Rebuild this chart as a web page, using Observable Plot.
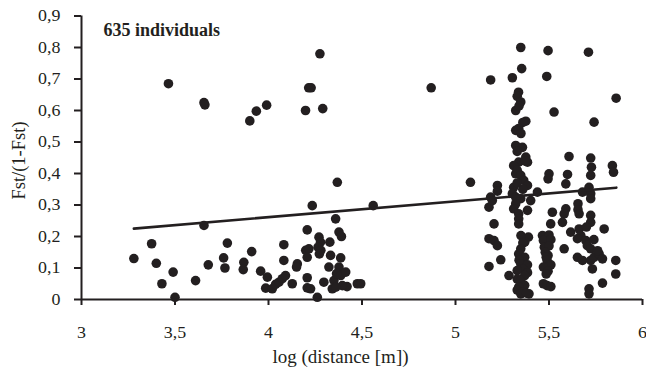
<!DOCTYPE html>
<html><head><meta charset="utf-8">
<script src="https://cdn.jsdelivr.net/npm/d3@7"></script>
<script src="https://cdn.jsdelivr.net/npm/@observablehq/plot@0.6"></script>
<style>body{margin:0;background:#fff;overflow:hidden}</style>
</head><body><div id="chart"></div>
<script>
const distX = [
3.28,3.375,3.40,3.43,3.49,3.50,3.465,3.61,3.655,3.655,3.66,3.678,3.76,3.767,3.78,3.868,3.865,3.90,3.91,3.935,
3.958,3.99,3.994,3.985,4.02,4.038,4.056,4.074,4.091,4.082,4.082,4.127,4.154,4.15,4.198,4.207,4.199,4.216,4.207,4.207,
4.207,4.225,4.215,4.228,4.234,4.261,4.27,4.278,4.265,4.28,4.272,4.275,4.29,4.328,4.332,4.323,4.296,4.35,4.341,4.359,
4.368,4.377,4.39,4.386,4.377,4.364,4.386,4.413,4.42,4.395,4.36,4.475,4.493,4.56,4.87,5.08,
5.188,5.304,5.349,5.354,5.495,5.488,5.711,5.859,5.527,5.741,5.607,5.723,5.727,5.723,5.839,5.845,5.50,5.495,5.599,5.59,
5.337,5.33,5.349,5.322,5.34,5.376,5.36,5.338,5.322,5.35,5.322,5.358,5.33,5.376,5.385,5.338,5.311,5.37,5.322,5.33,
5.349,5.365,5.385,5.311,5.304,5.322,5.349,5.322,5.311,5.338,5.338,5.338,5.385,5.402,5.438,5.36,5.33,
5.224,5.224,5.188,5.179,5.197,5.206,5.179,5.206,5.224,5.242,5.179,5.286,
5.39,5.35,5.37,5.36,5.349,5.338,5.37,5.34,5.349,5.385,5.36,5.33,5.385,5.37,5.33,5.349,5.37,5.338,5.33,5.36,5.349,5.393,5.38,
5.518,5.509,5.465,5.50,5.47,5.51,5.475,5.50,5.48,5.495,5.485,5.49,5.51,5.47,5.495,5.485,5.47,5.49,5.51,
5.714,5.679,5.723,5.723,5.655,5.655,5.59,5.581,5.572,5.661,5.723,5.723,5.616,5.661,5.67,5.652,5.697,5.705,5.723,5.74,
5.70,5.795,5.581,5.652,5.679,5.723,5.741,5.768,5.786,5.76,5.732,5.857,5.857,5.786,5.714,5.714
];
const fstY = [
0.13,0.177,0.115,0.05,0.087,0.007,0.685,0.06,0.235,0.625,0.618,0.11,0.132,0.10,0.179,0.118,0.095,0.567,0.152,0.598,
0.09,0.617,0.071,0.036,0.034,0.048,0.055,0.066,0.076,0.174,0.124,0.05,0.113,0.103,0.60,0.221,0.156,0.161,0.134,0.069,
0.037,0.034,0.672,0.672,0.298,0.007,0.198,0.182,0.166,0.156,0.145,0.78,0.606,0.182,0.14,0.103,0.055,0.06,0.034,0.256,
0.372,0.214,0.20,0.132,0.103,0.082,0.076,0.087,0.041,0.044,0.039,0.05,0.05,0.298,0.672,0.372,
0.697,0.704,0.80,0.733,0.79,0.708,0.785,0.639,0.595,0.563,0.454,0.449,0.42,0.394,0.425,0.404,0.399,0.383,0.397,0.367,
0.658,0.645,0.627,0.60,0.615,0.566,0.562,0.543,0.537,0.527,0.489,0.483,0.47,0.452,0.436,0.436,0.425,0.44,0.399,0.41,
0.394,0.378,0.362,0.356,0.336,0.325,0.32,0.304,0.288,0.272,0.256,0.24,0.283,0.314,0.341,0.35,0.37,
0.362,0.344,0.325,0.293,0.314,0.24,0.193,0.187,0.171,0.126,0.105,0.076,
0.198,0.203,0.182,0.18,0.161,0.145,0.134,0.125,0.113,0.11,0.097,0.092,0.085,0.076,0.065,0.06,0.045,0.039,0.03,0.023,0.018,0.018,0.02,
0.277,0.24,0.203,0.205,0.187,0.19,0.166,0.17,0.15,0.14,0.134,0.124,0.11,0.103,0.09,0.081,0.05,0.044,0.041,
0.356,0.341,0.336,0.32,0.304,0.285,0.288,0.272,0.245,0.272,0.267,0.245,0.214,0.224,0.203,0.193,0.187,0.171,0.161,0.19,
0.23,0.224,0.161,0.134,0.124,0.124,0.134,0.145,0.129,0.155,0.097,0.124,0.081,0.052,0.034,0.018
];
const xTicks = [3, 3.5, 4, 4.5, 5, 5.5, 6];
const yTicks = [0, 0.1, 0.2, 0.3, 0.4, 0.5, 0.6, 0.7, 0.8, 0.9];
const trendX = [3.28, 5.86];
const trendY = [0.225, 0.355];
const titleText = "635 individuals";
const xLabel = "log (distance [m])";
const yLabel = "Fst/(1-Fst)";

const points = distX.map((x, i) => ({x, y: fstY[i]}));
const trend = trendX.map((x, i) => ({x, y: trendY[i]}));
const fmt = d => String(d).replace(".", ",");
const ink = "#231f20";
const font = "'Liberation Serif', 'Times New Roman', serif";

const chart = Plot.plot({
  width: 646, height: 369,
  marginLeft: 81, marginRight: 4, marginTop: 15.5, marginBottom: 70,
  style: {fontFamily: font, color: ink, background: "#fff", overflow: "visible"},
  x: {domain: [3, 6]},
  y: {domain: [0, 0.9]},
  marks: [
    Plot.dot(points, {x: "x", y: "y", r: 4.8, fill: ink, stroke: "none"}),
    Plot.line(trend, {x: "x", y: "y", stroke: ink, strokeWidth: 2.6}),
    Plot.ruleY([0], {stroke: ink, strokeWidth: 2}),
    Plot.ruleX([3], {stroke: ink, strokeWidth: 2}),
    Plot.axisX(xTicks, {tickSize: 6, tickPadding: 21.5, tickFormat: fmt, fontSize: 16, stroke: ink, strokeWidth: 2, fill: ink, label: null}),
    Plot.axisY(yTicks, {tickSize: 7, tickPadding: 14, tickFormat: fmt, fontSize: 16, stroke: ink, strokeWidth: 2, fill: ink, label: null}),
    Plot.text([titleText], {frameAnchor: "top-left", textAnchor: "start", lineAnchor: "bottom", dx: 22, dy: 19.5, fontSize: 18, fontWeight: "bold", fill: ink, ariaLabel: "chart-title"}),
    Plot.text([xLabel], {frameAnchor: "bottom", textAnchor: "middle", lineAnchor: "bottom", dx: -21.5, dy: 63, fontSize: 19, fill: ink, ariaLabel: "x-title"}),
    Plot.text([yLabel], {frameAnchor: "left", textAnchor: "middle", lineAnchor: "bottom", rotate: -90, dx: -56.5, dy: 2.75, fontSize: 18.5, fill: ink, ariaLabel: "y-title"})
  ]
});
document.getElementById("chart").append(chart);

function stretch(sel, f) {
  d3.select(chart).selectAll(sel).each(function() {
    const w = this.getComputedTextLength();
    this.setAttribute("textLength", (typeof f === "number" && f < 5 ? w * f : f));
    this.setAttribute("lengthAdjust", "spacingAndGlyphs");
  });
}
stretch("g[aria-label='x-axis tick label'] text", 1.12);
stretch("g[aria-label='y-axis tick label'] text", 1.12);
stretch("g[aria-label='chart-title'] text", 134);
stretch("g[aria-label='x-title'] text", 148);
stretch("g[aria-label='y-title'] text", 124);
</script>
</body></html>
